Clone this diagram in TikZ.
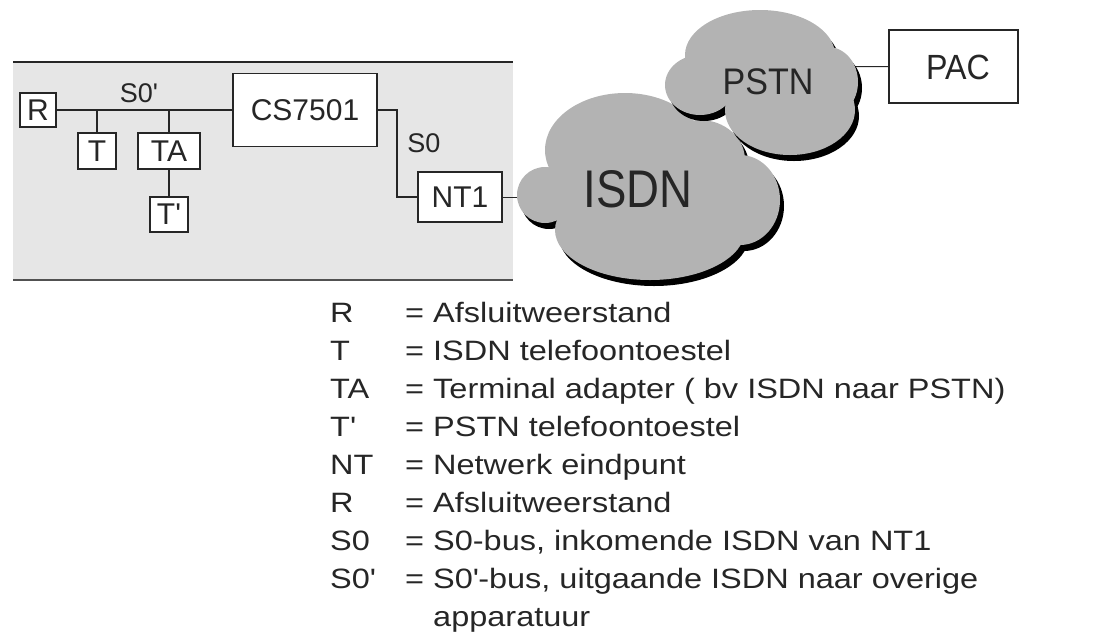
\documentclass[tikz,border=0pt]{standalone}
\usepackage{fontspec}
\setmainfont{Liberation Sans}
\newfontfamily\legfont[FakeStretch=1.16]{Liberation Sans}
\newfontfamily\isdnfont[FakeStretch=0.86]{Liberation Sans}
\newfontfamily\pstnfont[FakeStretch=0.92]{Liberation Sans}
\usetikzlibrary{calc}
\definecolor{band}{HTML}{E6E6E6}
\definecolor{cloudfill}{HTML}{B3B3B3}
\definecolor{ink}{HTML}{262626}
\newcommand{\q}{\textquotesingle}
\begin{document}
\begin{tikzpicture}[x=1pt,y=-1pt,
  box/.style={draw=ink,line width=1.4pt,fill=white,inner sep=0pt,text=ink,font=\fontsize{30}{34}\selectfont},
  wire/.style={draw=ink,line width=1.3pt},
  lbl/.style={text=ink,font=\fontsize{27}{32}\selectfont,inner sep=0pt},
  leg/.style={text=ink,font=\legfont\fontsize{28}{34}\selectfont,inner sep=0pt,anchor=base west},
  cloudtext/.style={text=ink,inner sep=0pt}]
\useasboundingbox (0,0) rectangle (1120,633);
% grey band
\fill[band] (13,62) rectangle (513,280);
\draw[ink,line width=1.2pt] (13,62) -- (513,62);
\draw[ink!80,line width=2.6pt] (13,280) -- (513,280);
% boxes
\node[box,minimum width=36,minimum height=34] (R) at (38,110) {R};
\node[box,minimum width=38,minimum height=36] (T) at (97,151) {T};
\node[box,minimum width=62,minimum height=36] (TA) at (169,151) {TA};
\node[box,minimum width=38,minimum height=35] (Tp) at (169,214.5) {T\q};
\node[box,minimum width=144,minimum height=73] (CS) at (305,110) {CS7501};
\node[box,minimum width=84,minimum height=50] (NT) at (460,197) {NT1};
\node[box,minimum width=129,minimum height=73] (PAC) at (953.5,66.5) {};
\node[text=ink,inner sep=0pt,font=\pstnfont\fontsize{35}{40}\selectfont] (paclbl) at (958,67) {PAC};
\node[lbl] (s0p) at (139,93) {S0\q};
\node[lbl] (s0) at (424,143) {S0};
% wires
\draw[wire] (R) -- (CS);
\draw[wire] (T.north) -- (T.north |- R.east);
\draw[wire] (TA.north) -- (TA.north |- R.east);
\draw[wire] (TA.south) -- (Tp.north);
\coordinate (bend) at (397,110);
\draw[wire] (CS.east) -- (bend) |- (NT.west);
\coordinate (isdnin) at (540,197);
\draw[wire,line width=1pt] (NT.east) -- (isdnin);
\coordinate (pstnout) at (800,67);
\draw[wire,line width=1pt] (pstnout) -- (PAC.west);
% ISDN cloud
\foreach \cx/\cy/\rx/\ry in {545/195/28/28,625/150/80/57,650/230/95/50,740/200/40/45,700/160/45/40,620/198/70/50}
  \fill[black] (\cx+4,\cy+6) ellipse[x radius=\rx,y radius=\ry];
\foreach \cx/\cy/\rx/\ry in {545/195/28/28,625/150/80/57,650/230/95/50,740/200/40/45,700/160/45/40,620/198/70/50}
  \fill[cloudfill] (\cx,\cy) ellipse[x radius=\rx,y radius=\ry];
\node[cloudtext,font=\isdnfont\fontsize{53}{60}\selectfont] (isdn) at (638,189) {ISDN};
% PSTN cloud
\foreach \cx/\cy/\rx/\ry in {700/85/35/30,760/55/75/45,790/110/65/45,828/82/30/35}
  \fill[black] (\cx+4,\cy+6) ellipse[x radius=\rx,y radius=\ry];
\foreach \cx/\cy/\rx/\ry in {700/85/35/30,760/55/75/45,790/110/65/45,828/82/30/35}
  \fill[cloudfill] (\cx,\cy) ellipse[x radius=\rx,y radius=\ry];
\node[cloudtext,font=\pstnfont\fontsize{37}{42}\selectfont] (pstn) at (768,82) {PSTN};
% legend
\foreach \k/\v [count=\i from 0] in {R/Afsluitweerstand,T/ISDN telefoontoestel,TA/Terminal adapter ( bv ISDN naar PSTN),T\q/PSTN telefoontoestel,NT/Netwerk eindpunt,R/Afsluitweerstand,S0/S0-bus{,} inkomende ISDN van NT1,S0\q/S0\q-bus{,} uitgaande ISDN naar overige}{
  \node[leg] (k\i) at (330,322+38*\i) {\k};
  \node[leg] (e\i) at (405,322+38*\i) {=};
  \node[leg] (v\i) at (433,322+38*\i) {\v};
}
\node[leg] (v8) at (433,626) {apparatuur};
\end{tikzpicture}
\end{document}
